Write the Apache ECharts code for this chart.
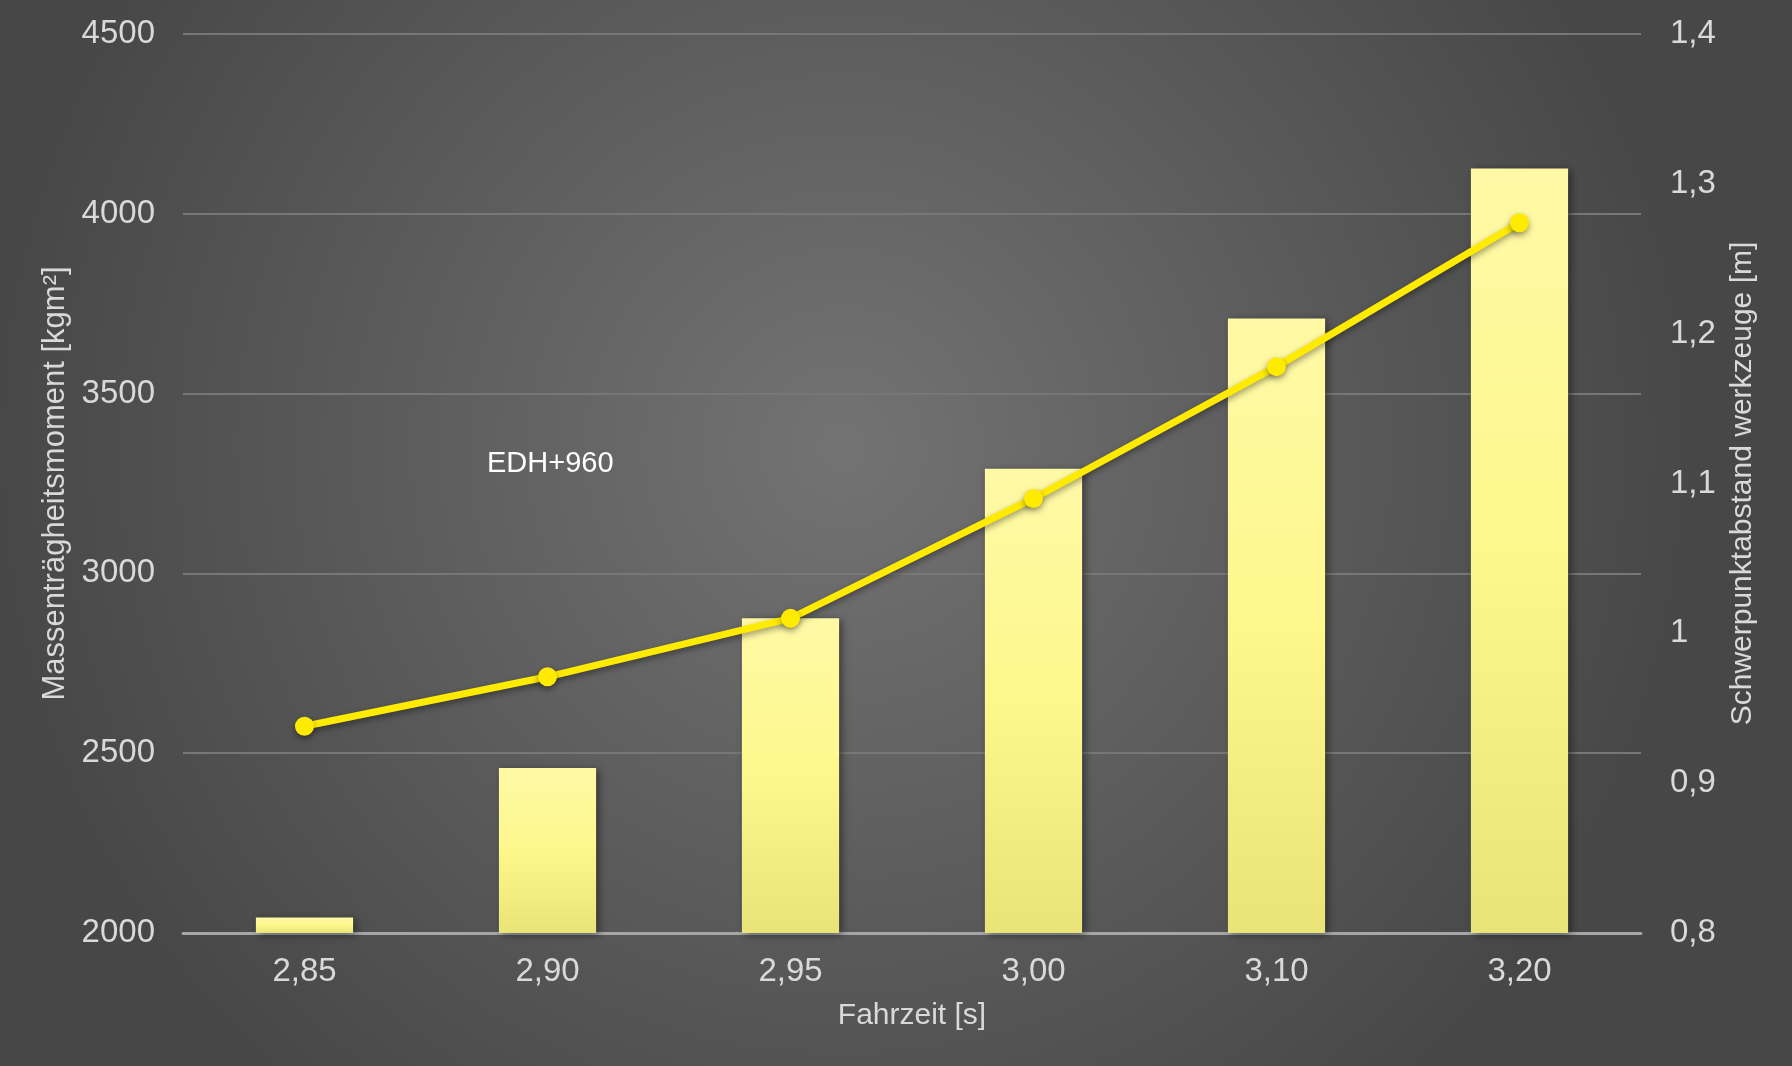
<!DOCTYPE html>
<html>
<head>
<meta charset="utf-8">
<script src="https://cdn.jsdelivr.net/npm/echarts@6/dist/echarts.min.js"></script>
<style>html,body{margin:0;padding:0;background:#555}#c{width:1792px;height:1066px}</style>
</head>
<body>
<div id="c"></div>
<script>
const categories = ['2,85', '2,90', '2,95', '3,00', '3,10', '3,20'];
const inertiaValues = [2043, 2459, 2875, 3291, 3709, 4126];
const distanceValues = [0.938, 0.971, 1.010, 1.090, 1.178, 1.274];
const leftAxisName = 'Massenträgheitsmoment [kgm²]';
const rightAxisName = 'Schwerpunktabstand werkzeuge [m]';
const xAxisName = 'Fahrzeit [s]';
const annotation = 'EDH+960';

const txt = '#d9d9d9';
const font = 'Liberation Sans';
const chart = echarts.init(document.getElementById('c'));
chart.setOption({
  backgroundColor: {
    type: 'radial', x: 0.47, y: 0.42, r: 0.8,
    colorStops: [{offset: 0, color: '#737373'}, {offset: 1, color: '#474747'}]
  },
  textStyle: {fontFamily: font},
  graphic: [{
    type: 'text', left: 487, top: 449,
    style: {text: annotation, fill: '#ffffff', font: '29px "Liberation Sans"'}
  }],
  grid: {left: 183, right: 151, top: 34, bottom: 133},
  xAxis: {
    type: 'category', data: categories,
    name: xAxisName, nameLocation: 'middle', nameGap: 68,
    nameTextStyle: {color: txt, fontSize: 30},
    axisLine: {lineStyle: {color: '#a6a6a6', width: 3}},
    axisTick: {show: false},
    axisLabel: {color: txt, fontSize: 33, margin: 22}
  },
  yAxis: [{
    type: 'value', min: 2000, max: 4500, interval: 500,
    name: leftAxisName, nameLocation: 'middle', nameGap: 107, nameRotate: 90,
    nameTextStyle: {color: txt, fontSize: 31},
    axisLine: {show: false}, axisTick: {show: false},
    axisLabel: {color: txt, fontSize: 33, margin: 28, formatter: v => String(v)},
    splitLine: {lineStyle: {color: '#777777', width: 2}}
  }, {
    type: 'value', min: 0.8, max: 1.4, interval: 0.1,
    name: rightAxisName, nameLocation: 'middle', nameGap: 87, nameRotate: 90,
    nameTextStyle: {color: txt, fontSize: 30},
    axisLine: {show: false}, axisTick: {show: false},
    axisLabel: {color: txt, fontSize: 33, margin: 29,
      formatter: v => String(Math.round(v * 10) / 10).replace('.', ',')},
    splitLine: {show: false}
  }],
  series: [{
    type: 'bar', data: inertiaValues, barWidth: '40%',
    itemStyle: {
      color: {type: 'linear', x: 0, y: 0, x2: 0, y2: 1,
        colorStops: [{offset: 0, color: '#fff9a6'}, {offset: 0.5, color: '#fdf88c'}, {offset: 1, color: '#e8e478'}]},
      shadowColor: 'rgba(0,0,0,0.45)', shadowBlur: 8, shadowOffsetX: 3, shadowOffsetY: 2
    }
  }, {
    type: 'line', yAxisIndex: 1, data: distanceValues,
    symbol: 'circle', symbolSize: 19,
    lineStyle: {color: '#ffeb00', width: 7, shadowColor: 'rgba(0,0,0,0.4)', shadowBlur: 6, shadowOffsetY: 3},
    itemStyle: {color: '#ffeb00', shadowColor: 'rgba(0,0,0,0.4)', shadowBlur: 6, shadowOffsetY: 3}
  }]
});
</script>
</body>
</html>
